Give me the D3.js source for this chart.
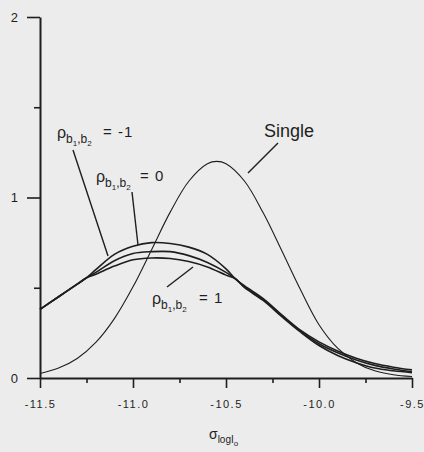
<!DOCTYPE html>
<html>
<head>
<meta charset="utf-8">
<script src="https://cdn.jsdelivr.net/npm/d3@7"></script>
<style>
  html, body { margin: 0; padding: 0; background: #ececec; }
  svg { display: block; font-family: "Liberation Sans", Arial, sans-serif; }
</style>
</head>
<body>
<div id="chart"></div>
<script>
// ---- data ----
const xValues = [-11.5, -11.4, -11.3, -11.25, -11.2, -11.1, -11.0, -10.9, -10.8, -10.7, -10.6,
                 -10.5, -10.45, -10.4, -10.3, -10.2, -10.1, -10.0, -9.9, -9.8, -9.7, -9.6, -9.5];
const rhoMinus1 = [0.38, 0.45, 0.52, 0.555, 0.60, 0.685, 0.73, 0.75, 0.745, 0.725, 0.685,
                   0.605, 0.55, 0.51, 0.44, 0.35, 0.265, 0.20, 0.15, 0.11, 0.08, 0.06, 0.045];
const rhoZero   = [0.38, 0.45, 0.52, 0.555, 0.585, 0.65, 0.69, 0.70, 0.70, 0.678, 0.64,
                   0.585, 0.55, 0.505, 0.435, 0.345, 0.26, 0.19, 0.14, 0.10, 0.07, 0.05, 0.035];
const rhoOne    = [0.38, 0.45, 0.52, 0.555, 0.575, 0.62, 0.655, 0.665, 0.662, 0.645, 0.615,
                   0.57, 0.55, 0.50, 0.43, 0.34, 0.255, 0.18, 0.125, 0.085, 0.055, 0.04, 0.03];

const singleX = [-11.5, -11.4, -11.3, -11.2, -11.1, -11.0, -10.9, -10.8, -10.7, -10.6, -10.55,
                 -10.5, -10.4, -10.3, -10.2, -10.1, -10.0, -9.9, -9.8, -9.7, -9.6, -9.5];
const singleY = [0.025, 0.055, 0.108, 0.197, 0.329, 0.505, 0.711, 0.919, 1.09, 1.187, 1.20,
                 1.187, 1.09, 0.915, 0.705, 0.49, 0.295, 0.165, 0.085, 0.04, 0.018, 0.008];

const xMajorTicks = [-11.5, -11.0, -10.5, -10.0, -9.5];
const xTickLabels = ["-11.5", "-11.0", "-10.5", "-10.0", "-9.5"];
const xMinorTicks = [-11.25, -10.75, -10.25, -9.75];
const yMajorTicks = [0, 1, 2];
const yTickLabels = ["0", "1", "2"];
const yMinorTicks = [0.5, 1.5];

// ---- drawing ----
const W = 424, H = 452;
const svg = d3.select("#chart").append("svg").attr("width", W).attr("height", H);
svg.append("rect").attr("width", W).attr("height", H).attr("fill", "#ececec");

const x = d3.scaleLinear().domain([-11.5, -9.5]).range([40, 412]);
const y = d3.scaleLinear().domain([0, 2]).range([378, 17]);
const ink = "#1e1e1e";

// axes
const gx = svg.append("g").attr("transform", `translate(0,${y(0)})`);
gx.call(d3.axisBottom(x).tickValues(xMajorTicks).tickSize(10).tickSizeOuter(0).tickPadding(12)
  .tickFormat((d, i) => xTickLabels[i]));
const gxm = svg.append("g").attr("transform", `translate(0,${y(0)})`);
gxm.call(d3.axisBottom(x).tickValues(xMinorTicks).tickSize(5).tickSizeOuter(0).tickFormat(""));
gxm.select(".domain").remove();

const gy = svg.append("g").attr("transform", `translate(${x(-11.5)},0)`);
gy.call(d3.axisLeft(y).tickValues(yMajorTicks).tickSize(13).tickSizeOuter(0).tickPadding(9)
  .tickFormat((d, i) => yTickLabels[i]));
const gym = svg.append("g").attr("transform", `translate(${x(-11.5)},0)`);
gym.call(d3.axisLeft(y).tickValues(yMinorTicks).tickSize(6).tickSizeOuter(0).tickFormat(""));
gym.select(".domain").remove();

svg.selectAll(".domain").attr("stroke", ink).attr("stroke-width", 2);
svg.selectAll(".tick line").attr("stroke", ink).attr("stroke-width", 1.6);
gx.selectAll(".tick text").attr("font-size", 11).attr("letter-spacing", "1.5px").attr("fill", ink)
  .attr("font-family", "Liberation Sans, Arial, sans-serif");
gy.selectAll(".tick text").attr("font-size", 13).attr("fill", ink)
  .attr("font-family", "Liberation Sans, Arial, sans-serif");

// curves
const line = d3.line().x(d => x(d[0])).y(d => y(d[1])).curve(d3.curveCatmullRom.alpha(0.5));
const series = [rhoMinus1, rhoZero, rhoOne];
series.forEach(vals => {
  svg.append("path").datum(xValues.map((v, i) => [v, vals[i]]))
    .attr("d", line).attr("fill", "none").attr("stroke", ink).attr("stroke-width", 1.6);
});
svg.append("path").datum(singleX.map((v, i) => [v, singleY[i]]))
  .attr("d", line).attr("fill", "none").attr("stroke", ink).attr("stroke-width", 1.1);

// labels and leader lines
function leader(x1, y1, x2, y2) {
  svg.append("line").attr("x1", x1).attr("y1", y1).attr("x2", x2).attr("y2", y2)
    .attr("stroke", ink).attr("stroke-width", 1.4);
}
function rhoLabel(px, py, eqX, val) {
  const t = svg.append("text").attr("x", px).attr("y", py).attr("font-size", 16).attr("fill", ink);
  t.append("tspan").text("ρ");
  t.append("tspan").attr("dy", 5).attr("font-size", 12).text("b");
  t.append("tspan").attr("dy", 3).attr("font-size", 8).text("1");
  t.append("tspan").attr("dy", -3).attr("font-size", 12).text(",b");
  t.append("tspan").attr("dy", 3).attr("font-size", 8).text("2");
  svg.append("text").attr("x", eqX).attr("y", py - 1).attr("font-size", 15).attr("fill", ink)
    .attr("letter-spacing", "1px").text("= " + val);
}
rhoLabel(57, 138, 103, "-1");
leader(73, 150, 108, 256);
rhoLabel(96, 182, 140, "0");
leader(132, 192, 138, 245);
rhoLabel(152, 304, 199, "1");
leader(167, 287, 193, 267);

svg.append("text").attr("x", 264).attr("y", 137).attr("font-size", 18).attr("fill", ink).text("Single");
leader(278, 143, 248, 173);

// x-axis title
const xt = svg.append("text").attr("x", 209).attr("y", 439).attr("font-size", 14).attr("fill", ink);
xt.append("tspan").text("σ");
xt.append("tspan").attr("dy", 4).attr("font-size", 10).text("logI");
xt.append("tspan").attr("dy", 3).attr("font-size", 8).text("o");
</script>
</body>
</html>
